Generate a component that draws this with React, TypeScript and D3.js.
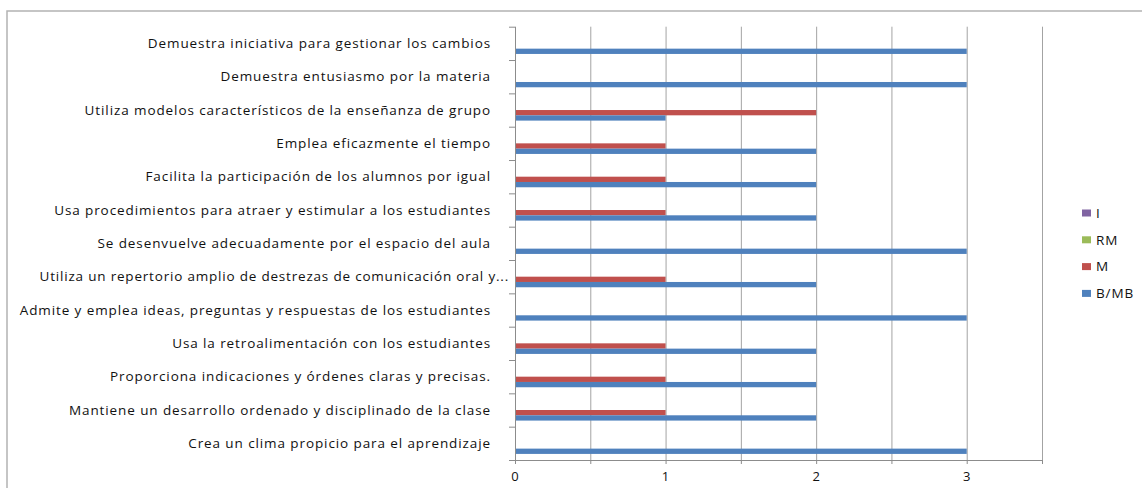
import React, { useEffect, useRef } from 'react';
import * as d3 from 'd3';

// Categories listed top to bottom as they appear in the chart
const categories = [
  'Demuestra iniciativa para gestionar los cambios',
  'Demuestra entusiasmo por la materia',
  'Utiliza modelos característicos de la enseñanza de grupo',
  'Emplea eficazmente el tiempo',
  'Facilita la participación de los alumnos por igual',
  'Usa procedimientos para atraer y estimular a los estudiantes',
  'Se desenvuelve adecuadamente por el espacio del aula',
  'Utiliza un repertorio amplio de destrezas de comunicación oral y...',
  'Admite y emplea ideas, preguntas y respuestas de los estudiantes',
  'Usa la retroalimentación con los estudiantes',
  'Proporciona indicaciones y órdenes claras y precisas.',
  'Mantiene un desarrollo ordenado y disciplinado de la clase',
  'Crea un clima propicio para el aprendizaje',
];

const seriesNames = ['I', 'RM', 'M', 'B/MB'];
const seriesColors = ['#8064a2', '#9bbb59', '#c0504d', '#4f81bd'];

const valuesI = [0, 0, 0, 0, 0, 0, 0, 0, 0, 0, 0, 0, 0];
const valuesRM = [0, 0, 0, 0, 0, 0, 0, 0, 0, 0, 0, 0, 0];
const valuesM = [0, 0, 2, 1, 1, 1, 0, 1, 0, 1, 1, 1, 0];
const valuesBMB = [3, 3, 1, 2, 2, 2, 3, 2, 3, 2, 2, 2, 3];

const xTicks = [0, 0.5, 1, 1.5, 2, 2.5, 3, 3.5];
const xLabels = [0, 1, 2, 3];

const W = 1142;
const H = 488;
const FONT = '"Open Sans", "DejaVu Sans", sans-serif';

const App: React.FC = () => {
  const svgRef = useRef<SVGSVGElement>(null);

  useEffect(() => {
    if (!svgRef.current) return;
    const svg = d3.select(svgRef.current);
    svg.selectAll('*').remove();

    const plot = { left: 515, right: 1042, top: 26.7, bottom: 460 };
    const allSeries = [valuesI, valuesRM, valuesM, valuesBMB];

    const x = d3.scaleLinear().domain([0, 3.5]).range([plot.left, plot.right]);
    const y = d3.scaleBand<string>().domain(categories).range([plot.top, plot.bottom]);
    const ys = d3.scaleBand<string>()
      .domain(seriesNames)
      .range([0, y.bandwidth()])
      .paddingOuter(1.15);

    // chart frame (runs off the right and bottom edges)
    svg.append('rect')
      .attr('x', 7).attr('y', 11)
      .attr('width', W + 20).attr('height', H + 20)
      .attr('fill', 'white')
      .attr('stroke', '#b3b3b3')
      .attr('stroke-width', 1.5);

    // vertical gridlines
    svg.append('g')
      .selectAll('line')
      .data(xTicks.slice(1))
      .enter().append('line')
      .attr('x1', d => x(d) + 0.5).attr('x2', d => x(d) + 0.5)
      .attr('y1', plot.top).attr('y2', plot.bottom)
      .attr('stroke', '#a3a3a3')
      .attr('stroke-width', 1);

    // bars
    allSeries.forEach((vals, si) => {
      svg.append('g')
        .selectAll('rect')
        .data(vals)
        .enter().append('rect')
        .attr('x', x(0))
        .attr('y', (_, i) => (y(categories[i]) as number) + (ys(seriesNames[si]) as number))
        .attr('width', d => x(d) - x(0))
        .attr('height', ys.bandwidth())
        .attr('fill', seriesColors[si]);
    });

    // y axis
    const yAxis = svg.append('g');
    yAxis.append('line')
      .attr('x1', plot.left + 0.5).attr('x2', plot.left + 0.5)
      .attr('y1', plot.top).attr('y2', plot.bottom + 4)
      .attr('stroke', '#8c8c8c');
    const bounds = d3.range(categories.length + 1).map(i => plot.top + i * y.step());
    yAxis.selectAll('line.tick')
      .data(bounds)
      .enter().append('line')
      .attr('class', 'tick')
      .attr('x1', plot.left - 6).attr('x2', plot.left)
      .attr('y1', d => d + 0.5).attr('y2', d => d + 0.5)
      .attr('stroke', '#8c8c8c');
    // truncated labels (ending in "...") run closer to the axis
    yAxis.selectAll('text')
      .data(categories)
      .enter().append('text')
      .attr('x', d => (d.endsWith('...') ? 509 : 491))
      .attr('y', d => (y(d) as number) + y.bandwidth() / 2)
      .attr('dy', '0.35em')
      .attr('text-anchor', 'end')
      .style('font-family', FONT)
      .style('font-size', '13.5px')
      .style('letter-spacing', d => (d.endsWith('...') ? '0.8px' : '0.9px'))
      .attr('fill', '#111')
      .text(d => d);

    // x axis
    const xAxis = svg.append('g');
    xAxis.append('line')
      .attr('x1', plot.left).attr('x2', plot.right)
      .attr('y1', plot.bottom + 0.5).attr('y2', plot.bottom + 0.5)
      .attr('stroke', '#8c8c8c');
    xAxis.selectAll('line.tick')
      .data(xTicks)
      .enter().append('line')
      .attr('class', 'tick')
      .attr('x1', d => x(d) + 0.5).attr('x2', d => x(d) + 0.5)
      .attr('y1', plot.bottom).attr('y2', plot.bottom + 4)
      .attr('stroke', '#8c8c8c');
    xAxis.selectAll('text')
      .data(xLabels)
      .enter().append('text')
      .attr('x', d => x(d))
      .attr('y', 481)
      .attr('text-anchor', 'middle')
      .style('font-family', FONT)
      .style('font-size', '13px')
      .attr('fill', '#111')
      .text(d => d);

    // legend
    const legend = svg.append('g');
    seriesNames.forEach((name, i) => {
      const ly = 213 + i * 26.8;
      legend.append('rect')
        .attr('x', 1082).attr('y', ly - 3.5)
        .attr('width', 9).attr('height', 7)
        .attr('fill', seriesColors[i]);
      legend.append('text')
        .attr('x', 1096)
        .attr('y', ly)
        .attr('dy', '0.35em')
        .style('font-family', FONT)
        .style('font-size', '13.5px')
        .style('letter-spacing', '0.9px')
        .attr('fill', '#111')
        .text(name);
    });
  }, []);

  return (
    <svg
      ref={svgRef}
      width={W}
      height={H}
      style={{ position: 'absolute', left: 0, top: 0, background: 'white' }}
    />
  );
};

export default App;
